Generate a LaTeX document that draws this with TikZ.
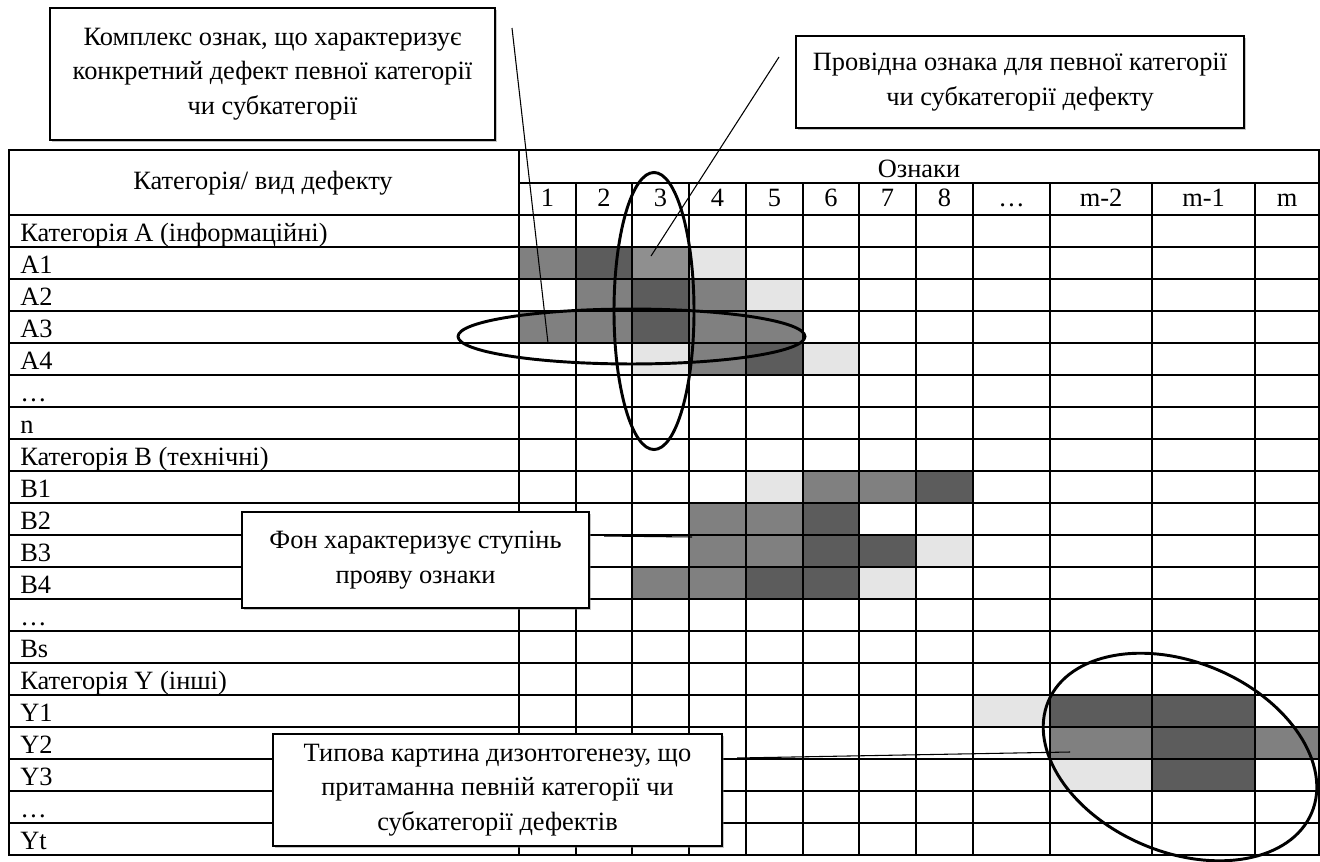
\documentclass[tikz,border=0pt]{standalone}
\usepackage{fontspec}
\setmainfont{Liberation Serif}
\usetikzlibrary{shadows}

\definecolor{celldark}{gray}{0.36}
\definecolor{cellmid}{gray}{0.5}
\definecolor{cellmidl}{gray}{0.56}
\definecolor{celllight}{gray}{0.9}
\newcommand{\tabfont}{\fontsize{19.8pt}{26pt}\selectfont}
\def\colx{{9,519,576,632,689,746,803,859,916,973,1050,1152,1255,1319}}

\tikzset{
  tabline/.style={line width=1.1pt},
  oval/.style={line width=2.2pt},
  callout/.style={line width=0.8pt},
  notebox/.style={draw, line width=1.1pt, fill=white, align=center, inner sep=0pt,
    drop shadow={shadow xshift=1.2pt, shadow yshift=-1.2pt, opacity=0.45}},
}

\begin{document}
\begin{tikzpicture}[x=0.75pt,y=-0.75pt,font=\tabfont]
\useasboundingbox (0,0) rectangle (1320,861);

% shaded cells
\foreach \c/\r/\g in {1/1/cellmid,2/1/celldark,3/1/cellmidl,4/1/celllight,
    2/2/cellmid,3/2/celldark,4/2/cellmid,5/2/celllight,
    1/3/cellmid,2/3/cellmid,3/3/celldark,4/3/cellmid,5/3/cellmid,
    3/4/celllight,4/4/cellmid,5/4/celldark,6/4/celllight,
    5/8/celllight,6/8/cellmid,7/8/cellmid,8/8/celldark,
    4/9/cellmid,5/9/cellmid,6/9/celldark,
    4/10/cellmid,5/10/cellmid,6/10/celldark,7/10/celldark,8/10/celllight,
    3/11/cellmid,4/11/cellmid,5/11/celldark,6/11/celldark,7/11/celllight,
    9/15/celllight,10/15/celldark,11/15/celldark,
    10/16/cellmid,11/16/celldark,12/16/cellmid,
    10/17/celllight,11/17/celldark}{
  \pgfmathsetmacro\xl{\colx[\c]}
  \pgfmathsetmacro\xr{\colx[\c+1]}
  \fill[\g] (\xl,215+32*\r) rectangle (\xr,247+32*\r);
}

% table lines
\draw[tabline] (9,150) rectangle (1319,855);
\draw[tabline] (519,150) -- (519,855);
\draw[tabline] (519,183) -- (1319,183);
\foreach \r in {0,...,19}
  \draw[tabline] (9,215+32*\r) -- (1319,215+32*\r);
\foreach \c in {2,...,12}{
  \pgfmathsetmacro\xl{\colx[\c]}
  \draw[tabline] (\xl,183) -- (\xl,855);
}

% header
\node[anchor=base] (kind) at (263,189) {Категорія/ вид дефекту};
\node[anchor=base] (signs) at (919,177) {Ознаки};
\foreach \t [count=\c] in {1,2,3,4,5,6,7,8,…,m-2,m-1,m}{
  \pgfmathsetmacro\xl{\colx[\c]}
  \pgfmathsetmacro\xr{\colx[\c+1]}
  \node[anchor=base] (sign\c) at ({(\xl+\xr)/2},206) {\t};
}

% row names
\foreach \t [count=\r from 0] in {Категорія A (інформаційні),A1,A2,A3,A4,…,n,
    Категорія B (технічні),B1,B2,B3,B4,…,Bs,Категорія Y (інші),Y1,Y2,Y3,…,Yt}
  \node[anchor=base west, inner sep=0pt] (row\r) at (20,215+32*\r+26) {\t};

% ovals
\draw[oval] (654,311) ellipse [x radius=30pt, y radius=103.9pt];
\draw[oval] (631.5,336.5) ellipse [x radius=130.1pt, y radius=20.6pt];
\draw[oval, rotate around={-23:(1180,757)}] (1180,757) ellipse [x radius=107.25pt, y radius=71.25pt];

% notes
\node[notebox, minimum width=333.75pt, minimum height=99pt] (complex) at (272.5,74)
  {Комплекс ознак, що характеризує\\конкретний дефект певної категорії\\чи субкатегорії};
\node[notebox, minimum width=336pt, minimum height=69pt] (leading) at (1020,82)
  {Провідна ознака для певної категорії\\чи субкатегорії дефекту};
\node[notebox, minimum width=260.25pt, minimum height=72pt] (backgr) at (415.5,560)
  {Фон характеризує ступінь\\прояву ознаки};
\node[notebox, minimum width=336.75pt, minimum height=84pt] (typical) at (497.5,790)
  {Типова картина дизонтогенезу, що\\притаманна певній категорії чи\\субкатегорії дефектів};

% pointers
\coordinate (complexfrom) at (512,28);
\coordinate (complexto) at (548,343);
\coordinate (leadingfrom) at (779,57);
\coordinate (leadingto) at (651,256);
\coordinate (backgrfrom) at (604,536);
\coordinate (backgrto) at (692,537);
\coordinate (typicalfrom) at (737,758);
\coordinate (typicalto) at (1070,752);
\draw[callout] (complexfrom) -- (complexto);
\draw[callout] (leadingfrom) -- (leadingto);
\draw[callout] (backgrfrom) -- (backgrto);
\draw[callout] (typicalfrom) -- (typicalto);
\end{tikzpicture}
\end{document}
